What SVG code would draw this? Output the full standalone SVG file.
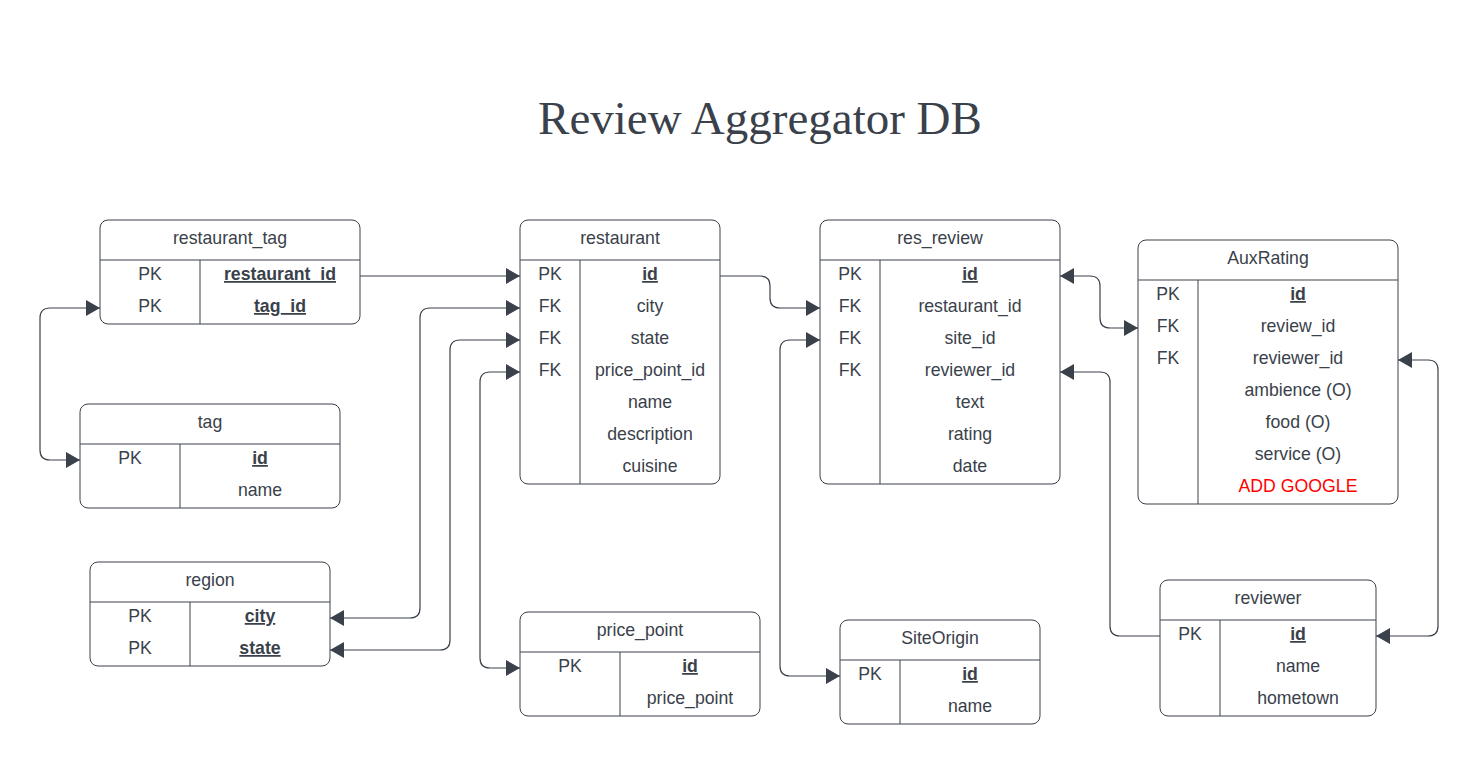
<svg xmlns="http://www.w3.org/2000/svg" width="1479" height="764" viewBox="0 0 1479 764">
<defs>
<style>
.box{fill:#ffffff;stroke:#3a414a;stroke-width:1}
.ln{stroke:#3a414a;stroke-width:1;fill:none}
.t{font-family:"Liberation Sans",Arial,sans-serif;font-size:17.7px;fill:#3a414a;text-anchor:middle}
.k{font-weight:bold;text-decoration:underline}
.red{fill:#ff0000}
.title{font-family:"Liberation Serif","Times New Roman",serif;font-size:47px;fill:#3a414a;text-anchor:middle}
.c{stroke:#3a414a;stroke-width:1.2;fill:none}
</style>
<marker id="ah" viewBox="0 0 14 16" markerWidth="14" markerHeight="16" refX="14" refY="8" orient="auto-start-reverse" markerUnits="userSpaceOnUse">
<path d="M0,0 L14,8 L0,16 z" fill="#3a414a"/>
</marker>
</defs>
<rect width="1479" height="764" fill="#ffffff"/>
<text class="title" x="760" y="134">Review Aggregator DB</text>

<g id="connectors">
<path class="c" d="M360,276 H520" marker-end="url(#ah)"/>
<path class="c" d="M100,308 H50 Q40,308 40,318 V450 Q40,460 50,460 H80" marker-start="url(#ah)" marker-end="url(#ah)"/>
<path class="c" d="M330,618 H410 Q420,618 420,608 V318 Q420,308 430,308 H520" marker-start="url(#ah)" marker-end="url(#ah)"/>
<path class="c" d="M330,650 H440 Q450,650 450,640 V350 Q450,340 460,340 H520" marker-start="url(#ah)" marker-end="url(#ah)"/>
<path class="c" d="M520,372 H490 Q480,372 480,382 V658 Q480,668 490,668 H520" marker-start="url(#ah)" marker-end="url(#ah)"/>
<path class="c" d="M720,276 H760 Q770,276 770,286 V298 Q770,308 780,308 H820" marker-end="url(#ah)"/>
<path class="c" d="M820,340 H790 Q780,340 780,350 V666 Q780,676 790,676 H840" marker-start="url(#ah)" marker-end="url(#ah)"/>
<path class="c" d="M1060,276 H1090 Q1100,276 1100,286 V318 Q1100,328 1110,328 H1138" marker-start="url(#ah)" marker-end="url(#ah)"/>
<path class="c" d="M1160,636 H1120 Q1110,636 1110,626 V382 Q1110,372 1100,372 H1060" marker-end="url(#ah)"/>
<path class="c" d="M1398,360 H1428 Q1438,360 1438,370 V626 Q1438,636 1428,636 H1376" marker-start="url(#ah)" marker-end="url(#ah)"/>
</g>

<g id="restaurant_tag">
<rect class="box" x="100" y="220" width="260" height="104" rx="8"/>
<line class="ln" x1="100" y1="260" x2="360" y2="260"/>
<line class="ln" x1="200" y1="260" x2="200" y2="324"/>
<text class="t" x="230" y="244">restaurant_tag</text>
<text class="t" x="150" y="280">PK</text><text class="t k" x="280" y="280">restaurant_id</text>
<text class="t" x="150" y="312">PK</text><text class="t k" x="280" y="312">tag_id</text>
</g>

<g id="tag">
<rect class="box" x="80" y="404" width="260" height="104" rx="8"/>
<line class="ln" x1="80" y1="444" x2="340" y2="444"/>
<line class="ln" x1="180" y1="444" x2="180" y2="508"/>
<text class="t" x="210" y="428">tag</text>
<text class="t" x="130" y="464">PK</text><text class="t k" x="260" y="464">id</text>
<text class="t" x="260" y="496">name</text>
</g>

<g id="region">
<rect class="box" x="90" y="562" width="240" height="104" rx="8"/>
<line class="ln" x1="90" y1="602" x2="330" y2="602"/>
<line class="ln" x1="190" y1="602" x2="190" y2="666"/>
<text class="t" x="210" y="586">region</text>
<text class="t" x="140" y="622">PK</text><text class="t k" x="260" y="622">city</text>
<text class="t" x="140" y="654">PK</text><text class="t k" x="260" y="654">state</text>
</g>

<g id="restaurant">
<rect class="box" x="520" y="220" width="200" height="264" rx="8"/>
<line class="ln" x1="520" y1="260" x2="720" y2="260"/>
<line class="ln" x1="580" y1="260" x2="580" y2="484"/>
<text class="t" x="620" y="244">restaurant</text>
<text class="t" x="550" y="280">PK</text><text class="t k" x="650" y="280">id</text>
<text class="t" x="550" y="312">FK</text><text class="t" x="650" y="312">city</text>
<text class="t" x="550" y="344">FK</text><text class="t" x="650" y="344">state</text>
<text class="t" x="550" y="376">FK</text><text class="t" x="650" y="376">price_point_id</text>
<text class="t" x="650" y="408">name</text>
<text class="t" x="650" y="440">description</text>
<text class="t" x="650" y="472">cuisine</text>
</g>

<g id="price_point">
<rect class="box" x="520" y="612" width="240" height="104" rx="8"/>
<line class="ln" x1="520" y1="652" x2="760" y2="652"/>
<line class="ln" x1="620" y1="652" x2="620" y2="716"/>
<text class="t" x="640" y="636">price_point</text>
<text class="t" x="570" y="672">PK</text><text class="t k" x="690" y="672">id</text>
<text class="t" x="690" y="704">price_point</text>
</g>

<g id="res_review">
<rect class="box" x="820" y="220" width="240" height="264" rx="8"/>
<line class="ln" x1="820" y1="260" x2="1060" y2="260"/>
<line class="ln" x1="880" y1="260" x2="880" y2="484"/>
<text class="t" x="940" y="244">res_review</text>
<text class="t" x="850" y="280">PK</text><text class="t k" x="970" y="280">id</text>
<text class="t" x="850" y="312">FK</text><text class="t" x="970" y="312">restaurant_id</text>
<text class="t" x="850" y="344">FK</text><text class="t" x="970" y="344">site_id</text>
<text class="t" x="850" y="376">FK</text><text class="t" x="970" y="376">reviewer_id</text>
<text class="t" x="970" y="408">text</text>
<text class="t" x="970" y="440">rating</text>
<text class="t" x="970" y="472">date</text>
</g>

<g id="SiteOrigin">
<rect class="box" x="840" y="620" width="200" height="104" rx="8"/>
<line class="ln" x1="840" y1="660" x2="1040" y2="660"/>
<line class="ln" x1="900" y1="660" x2="900" y2="724"/>
<text class="t" x="940" y="644">SiteOrigin</text>
<text class="t" x="870" y="680">PK</text><text class="t k" x="970" y="680">id</text>
<text class="t" x="970" y="712">name</text>
</g>

<g id="AuxRating">
<rect class="box" x="1138" y="240" width="260" height="264" rx="8"/>
<line class="ln" x1="1138" y1="280" x2="1398" y2="280"/>
<line class="ln" x1="1198" y1="280" x2="1198" y2="504"/>
<text class="t" x="1268" y="264">AuxRating</text>
<text class="t" x="1168" y="300">PK</text><text class="t k" x="1298" y="300">id</text>
<text class="t" x="1168" y="332">FK</text><text class="t" x="1298" y="332">review_id</text>
<text class="t" x="1168" y="364">FK</text><text class="t" x="1298" y="364">reviewer_id</text>
<text class="t" x="1298" y="396">ambience (O)</text>
<text class="t" x="1298" y="428">food (O)</text>
<text class="t" x="1298" y="460">service (O)</text>
<text class="t red" x="1298" y="492">ADD GOOGLE</text>
</g>

<g id="reviewer">
<rect class="box" x="1160" y="580" width="216" height="136" rx="8"/>
<line class="ln" x1="1160" y1="620" x2="1376" y2="620"/>
<line class="ln" x1="1220" y1="620" x2="1220" y2="716"/>
<text class="t" x="1268" y="604">reviewer</text>
<text class="t" x="1190" y="640">PK</text><text class="t k" x="1298" y="640">id</text>
<text class="t" x="1298" y="672">name</text>
<text class="t" x="1298" y="704">hometown</text>
</g>
</svg>
